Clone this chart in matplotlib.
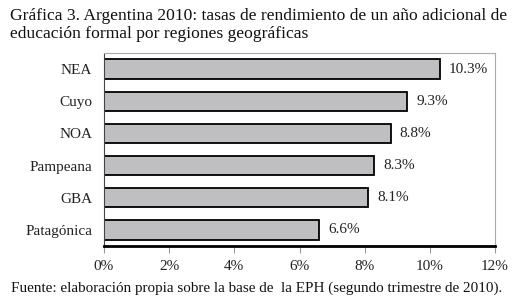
import matplotlib
matplotlib.use("Agg")
import matplotlib.pyplot as plt
from matplotlib.ticker import FuncFormatter

regions = ["NEA", "Cuyo", "NOA", "Pampeana", "GBA", "Patagónica"]
values = [10.3, 9.3, 8.8, 8.3, 8.1, 6.6]
xticks = [0, 2, 4, 6, 8, 10, 12]

title = ("Gráfica 3. Argentina 2010: tasas de rendimiento de un año adicional de\n"
         "educación formal por regiones geográficas")
source = "Fuente: elaboración propia sobre la base de  la EPH (segundo trimestre de 2010)."

plt.rcParams['font.family'] = ['Liberation Serif', 'DejaVu Serif']

fig = plt.figure(figsize=(5.16, 3.02), dpi=100)
ax = fig.add_axes([104/516, 1-246/302, (495-104)/516, (246-53)/302])

y = list(range(len(regions)))
ax.barh(y, values, height=0.6, color='#bfbfc1', edgecolor='black', linewidth=1.3)
for yi, v in zip(y, values):
    ax.text(v + 0.28, yi, f"{v:.1f}%", va='center', ha='left', fontsize=11, color='#222222')

ax.set_ylim(len(regions) - 0.5, -0.5)
ax.set_xlim(0, 12)
ax.set_xticks(xticks)
ax.xaxis.set_major_formatter(FuncFormatter(lambda v, p: f"{v:.0f}%"))
ax.set_yticks(y)
ax.set_yticklabels(regions)
ax.tick_params(axis='y', length=0, pad=8.5, labelsize=11, labelcolor='#222222')
ax.tick_params(axis='x', length=5, width=0.8, color='#999999', pad=5, labelsize=11, labelcolor='#222222')

for s in ['top', 'right']:
    ax.spines[s].set_color('#aaaaaa')
    ax.spines[s].set_linewidth(0.8)
ax.spines['left'].set_color('#444444')
ax.spines['left'].set_linewidth(0.8)
ax.spines['bottom'].set_color('black')
ax.spines['bottom'].set_linewidth(2)

fig.text(10/516, 1-8/302, title, ha='left', va='top', fontsize=12.6, linespacing=1.2, color='#111111')
fig.text(11/516, 1-288/302, source, ha='left', va='center', fontsize=10.9, color='#111111')

fig.savefig("out.png", dpi=100)
